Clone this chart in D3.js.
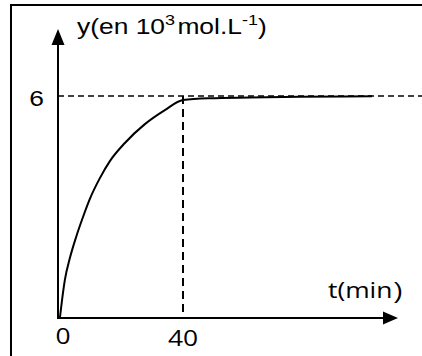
<!DOCTYPE html>
<html>
<head>
<meta charset="utf-8">
<script src="https://cdn.jsdelivr.net/npm/d3@7"></script>
<style>
  html, body { margin: 0; padding: 0; background: #fff; }
  svg { display: block; }
</style>
</head>
<body>
<div id="chart"></div>
<script>
// values (t in min, y in 10^3 mol.L-1)
const tValues = [0.6, 1.3, 2.2, 3.8, 5.8, 8.0, 10.2, 13.4, 16.6, 21.4, 27.8, 34.2, 40, 48.6, 61.4, 77.4, 100.5]
const yValues = [0, 0.49, 1.03, 1.62, 2.19, 2.73, 3.22, 3.78, 4.24, 4.73, 5.24, 5.62, 5.89, 5.94, 5.96, 5.98, 5.99]
const xTicks = [0, 40]
const yTicks = [6]
const yMax = 6
const tMark = 40

const width = 422, height = 356
const stretch = 1.2 // the original text is drawn wider than it is tall

const svg = d3.select("#chart").append("svg")
  .attr("width", width)
  .attr("height", height)

const x = d3.scaleLinear().domain([0, 40]).range([58, 183])
const y = d3.scaleLinear().domain([0, 6]).range([318, 96])

// frame round the figure (runs off the right and bottom edges)
svg.append("rect")
  .attr("x", 11).attr("y", 5)
  .attr("width", 430).attr("height", 370)
  .attr("fill", "none")
  .attr("stroke", "#000")
  .attr("stroke-width", 2)

// dashed guides
svg.append("line")
  .attr("x1", x(0)).attr("x2", width)
  .attr("y1", y(yMax)).attr("y2", y(yMax))
  .attr("stroke", "#000").attr("stroke-width", 1.6)
  .attr("stroke-dasharray", "6,4")

svg.append("line")
  .attr("x1", x(tMark)).attr("x2", x(tMark))
  .attr("y1", y(yMax)).attr("y2", y(0))
  .attr("stroke", "#000").attr("stroke-width", 2)
  .attr("stroke-dasharray", "8,5")

// axes with arrow heads
const axisG = svg.append("g").attr("stroke", "#000").attr("stroke-width", 2)
axisG.append("line")
  .attr("x1", x(0)).attr("x2", x(0))
  .attr("y1", y(0) + 1).attr("y2", 44)
axisG.append("line")
  .attr("x1", x(0) - 1).attr("x2", 384)
  .attr("y1", y(0)).attr("y2", y(0))

svg.append("path")
  .attr("d", `M${x(0)},29 L${x(0) - 6.5},45 L${x(0) + 6.5},45 Z`)
  .attr("fill", "#000")
svg.append("path")
  .attr("d", `M398,${y(0)} L383,${y(0) - 6.5} L383,${y(0) + 6.5} Z`)
  .attr("fill", "#000")

// the curve
const points = tValues.map((t, i) => [t, yValues[i]])
const line = d3.line()
  .x(d => x(d[0]))
  .y(d => y(d[1]))
  .curve(d3.curveMonotoneX)

svg.append("path")
  .datum(points)
  .attr("d", line)
  .attr("fill", "none")
  .attr("stroke", "#000")
  .attr("stroke-width", 2)

// helper: text placed at (px, py) and stretched horizontally
function label(px, py, anchor, family) {
  return svg.append("g")
    .attr("transform", `translate(${px},${py}) scale(${stretch},1)`)
    .append("text")
    .attr("text-anchor", anchor)
    .attr("font-family", family)
    .attr("font-size", 22)
    .attr("fill", "#000")
}

// tick labels
xTicks.forEach((t, i) => {
  label(x(t) + (i === 0 ? 5 : 0), i === 0 ? 344 : 346, "middle", "'Open Sans', sans-serif").text(t)
})
yTicks.forEach(v => {
  label(44, y(v) + 10, "end", "'Liberation Sans', Arial, sans-serif").text(v)
})

// y axis title
const yt = label(77, 34, "start", "'Liberation Sans', Arial, sans-serif")
yt.append("tspan").text("y(en 10")
yt.append("tspan").attr("font-size", 15).attr("dy", -9).text("3")
yt.append("tspan").attr("dy", 9).attr("dx", 2).text("mol.L")
yt.append("tspan").attr("font-size", 15).attr("dy", -9).text("-1")
yt.append("tspan").attr("dy", 9).text(")")

// x axis title
label(328, 298, "start", "'Open Sans', sans-serif").text("t(min")
label(394, 298, "start", "'Liberation Sans', Arial, sans-serif").text(")")
</script>
</body>
</html>
